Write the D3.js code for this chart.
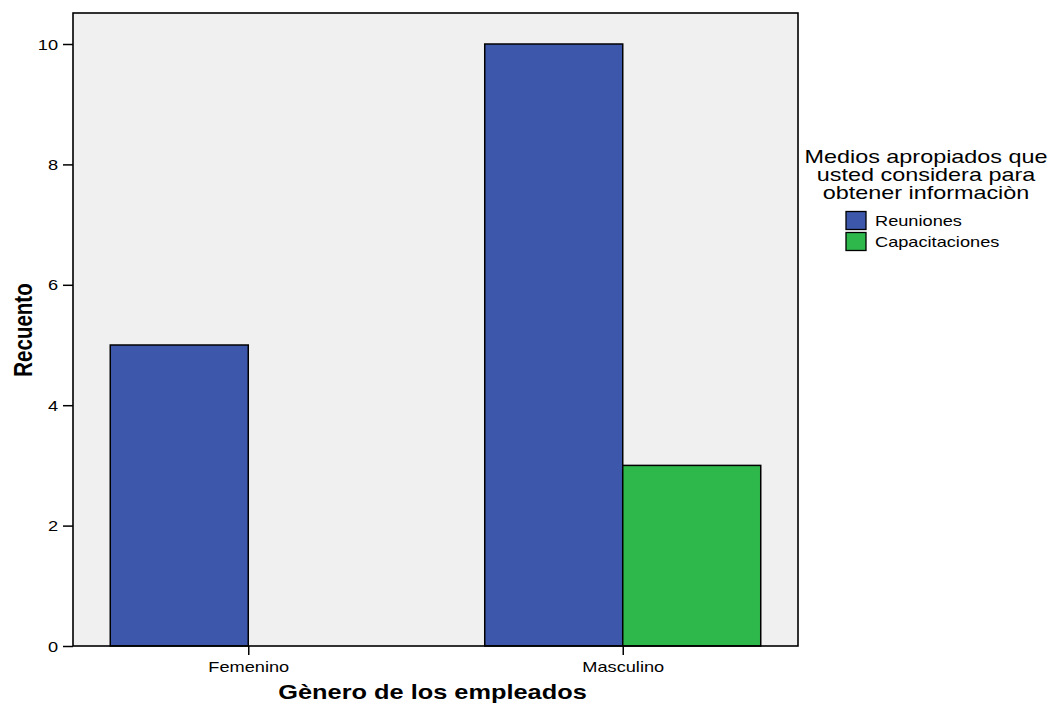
<!DOCTYPE html>
<html>
<head>
<meta charset="utf-8">
<script src="https://cdn.jsdelivr.net/npm/d3@7/dist/d3.min.js"></script>
<style>
  html, body { margin: 0; padding: 0; background: #ffffff; }
  svg { display: block; }
  text { font-family: Arial, "Liberation Sans", sans-serif; fill: #000; }
</style>
</head>
<body>
<svg id="chart" width="1049" height="704"></svg>
<script>
// Counts by gender and preferred information channel
const categories = ["Femenino", "Masculino"];
const series = ["Reuniones", "Capacitaciones"];
const reuniones = [5, 10];
const capacitaciones = [0, 3];
const yTicks = [0, 2, 4, 6, 8, 10];
const seriesColors = ["#3d58aa", "#2eb74a"];

const xTitle = "Gènero de los empleados";
const yTitle = "Recuento";
const legendTitle = ["Medios apropiados que", "usted considera para", "obtener informaciòn"];

const values = [reuniones, capacitaciones];
const rows = [];
categories.forEach((c, i) => {
  series.forEach((s, j) => rows.push({ category: c, series: s, value: values[j][i], color: seriesColors[j] }));
});

// Layout
const plot = { left: 73, right: 798, top: 13, bottom: 646 };
const sx = 1.3; // horizontal text stretch
const barWidth = 138;

const svg = d3.select("#chart");

const x = d3.scalePoint().domain(categories).range([plot.left, plot.right]).padding(0.468);
const xSub = d3.scaleBand().domain(series).range([-barWidth, barWidth]);
const y = d3.scaleLinear().domain([0, 10]).range([plot.bottom, 44]);

// Plot background
svg.append("rect")
  .attr("x", plot.left).attr("y", plot.top)
  .attr("width", plot.right - plot.left).attr("height", plot.bottom - plot.top)
  .attr("fill", "#f0f0f0");

// Bars (zero counts are not drawn)
svg.append("g").selectAll("rect")
  .data(rows.filter(d => d.value > 0))
  .join("rect")
  .attr("x", d => x(d.category) + xSub(d.series))
  .attr("y", d => y(d.value))
  .attr("width", xSub.bandwidth())
  .attr("height", d => y(0) - y(d.value))
  .attr("fill", d => d.color)
  .attr("stroke", "#000")
  .attr("stroke-width", 1.5);

// Frame
svg.append("rect")
  .attr("x", plot.left).attr("y", plot.top)
  .attr("width", plot.right - plot.left).attr("height", plot.bottom - plot.top)
  .attr("fill", "none").attr("stroke", "#000").attr("stroke-width", 1.6);

// Y axis
const yAxis = svg.append("g")
  .attr("transform", `translate(${plot.left},0)`)
  .call(d3.axisLeft(y).tickValues(yTicks).tickSize(10).tickPadding(4).tickFormat(d3.format("d")));
yAxis.select(".domain").remove();
yAxis.selectAll(".tick line").attr("stroke", "#000").attr("stroke-width", 1.5);
yAxis.selectAll(".tick text")
  .attr("font-size", 14).attr("font-family", "Arial, 'Liberation Sans', sans-serif")
  .attr("x", null).attr("dy", null)
  .attr("dominant-baseline", "central")
  .attr("text-anchor", "end")
  .attr("transform", `translate(-15,0) scale(${sx},1)`);

// X axis
const xAxis = svg.append("g")
  .attr("transform", `translate(0,${plot.bottom})`)
  .call(d3.axisBottom(x).tickSize(9).tickPadding(4));
xAxis.select(".domain").remove();
xAxis.selectAll(".tick line").attr("stroke", "#000").attr("stroke-width", 1.5);
xAxis.selectAll(".tick text")
  .attr("font-size", 14).attr("font-family", "Arial, 'Liberation Sans', sans-serif")
  .attr("y", null).attr("dy", null)
  .attr("transform", `translate(0,26) scale(${sx},1)`);

// Axis titles
svg.append("text")
  .attr("transform", `translate(${(plot.left + plot.right) / 2 - 3},699) scale(${sx},1)`)
  .attr("text-anchor", "middle")
  .attr("font-size", 19.5).attr("font-weight", "bold")
  .text(xTitle);

svg.append("text")
  .attr("transform", `translate(31.5,330) scale(${sx},1) rotate(-90)`)
  .attr("text-anchor", "middle")
  .attr("font-size", 20.5).attr("font-weight", "bold")
  .text(yTitle);

// Legend
const legend = svg.append("g");
legendTitle.forEach((line, i) => {
  legend.append("text")
    .attr("transform", `translate(926,${163 + i * 18}) scale(${sx},1)`)
    .attr("text-anchor", "middle")
    .attr("font-size", 18)
    .text(line);
});
const item = legend.selectAll("g.item")
  .data(series)
  .join("g")
  .attr("class", "item")
  .attr("transform", (d, i) => `translate(846,${211.5 + i * 21})`);
item.append("rect")
  .attr("width", 20).attr("height", 18)
  .attr("fill", (d, i) => seriesColors[i])
  .attr("stroke", "#000").attr("stroke-width", 1.3);
item.append("text")
  .attr("transform", `translate(29,9.5) scale(${sx},1.1)`)
  .attr("dominant-baseline", "central")
  .attr("font-size", 14)
  .text(d => d);
</script>
</body>
</html>
